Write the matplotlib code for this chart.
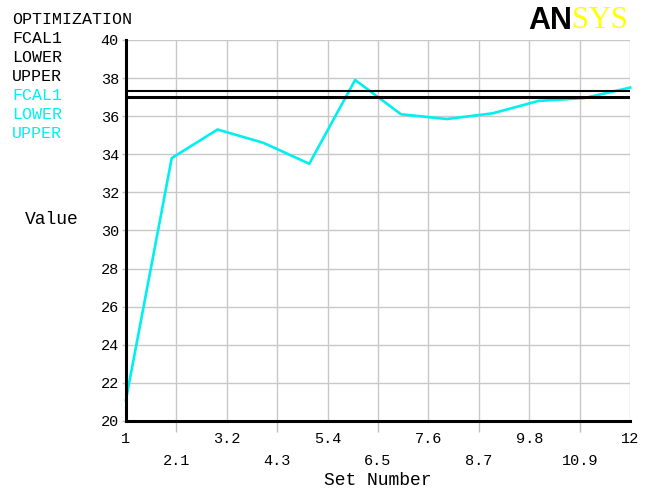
import matplotlib.pyplot as plt

# data
set_number = [1, 2, 3, 4, 5, 6, 7, 8, 9, 10, 11, 12]
fcal1 = [21.1, 33.8, 35.3, 34.6, 33.5, 37.9, 36.1, 35.85, 36.15, 36.8, 36.95, 37.5]
upper_bound = 37.3
lower_bound = 37.0
xtick_vals = [1, 2.1, 3.2, 4.3, 5.4, 6.5, 7.6, 8.7, 9.8, 10.9, 12]
xtick_labels = ['1', '2.1', '3.2', '4.3', '5.4', '6.5', '7.6', '8.7', '9.8', '10.9', '12']
ytick_vals = [20, 22, 24, 26, 28, 30, 32, 34, 36, 38, 40]

mono = ['Liberation Mono', 'DejaVu Sans Mono']
plt.rcParams['font.family'] = mono

fig = plt.figure(figsize=(6.49, 4.91), dpi=100)
ax = fig.add_axes([0.194, 0.1426, 0.777, 0.776])

ax.plot(set_number, fcal1, color='#00f0f0', lw=1.9, zorder=3, clip_on=False)
ax.plot([1, 12], [upper_bound, upper_bound], color='black', lw=1.5, zorder=4)
ax.plot([1, 12], [lower_bound, lower_bound], color='black', lw=2.2, zorder=4)

ax.set_xlim(1, 12)
ax.set_ylim(20, 40)

# two rows of x labels: major row on top, minor row below
ax.set_xticks(xtick_vals[::2])
ax.set_xticklabels(xtick_labels[::2])
ax.set_xticks(xtick_vals[1::2], minor=True)
ax.set_xticklabels(xtick_labels[1::2], minor=True)
ax.tick_params(axis='x', which='major', length=0, pad=8, labelsize=11)
ax.tick_params(axis='x', which='minor', length=8, width=1, color='#c0c0c0', pad=16, labelsize=11)
ax.set_yticks(ytick_vals)
ax.tick_params(axis='y', length=3, width=1, color='#c0c0c0', pad=2, labelsize=11)

ax.grid(True, which='both', color='#c8c8c8', lw=1)
ax.set_axisbelow(True)
for s in ['top', 'right']:
    ax.spines[s].set_visible(False)
for s in ['left', 'bottom']:
    ax.spines[s].set_linewidth(2.2)
    ax.spines[s].set_zorder(5)

ax.set_xlabel('Set Number', fontsize=13, labelpad=3)
fig.text(0.038, 0.552, 'Value', fontsize=13, va='center', ha='left')

# legend-like text block on the left
labels = ['OPTIMIZATION', 'FCAL1', 'LOWER', 'UPPER', 'FCAL1', 'LOWER', 'UPPER']
colors = ['black'] * 4 + ['#00f0f0'] * 3
for i, (t, c) in enumerate(zip(labels, colors)):
    fig.text(0.019, 0.961 - i * 0.0389, t, fontsize=12, color=c, va='center', ha='left')

# ANSYS logo
fig.text(0.882, 0.958, 'AN', fontsize=22, fontweight='bold', family='Liberation Sans',
         color='black', ha='right', va='center')
fig.text(0.882, 0.958, 'SYS', fontsize=22, family='Liberation Serif',
         color='#ffff00', ha='left', va='center')

fig.savefig('out.png', dpi=100, facecolor='white')
